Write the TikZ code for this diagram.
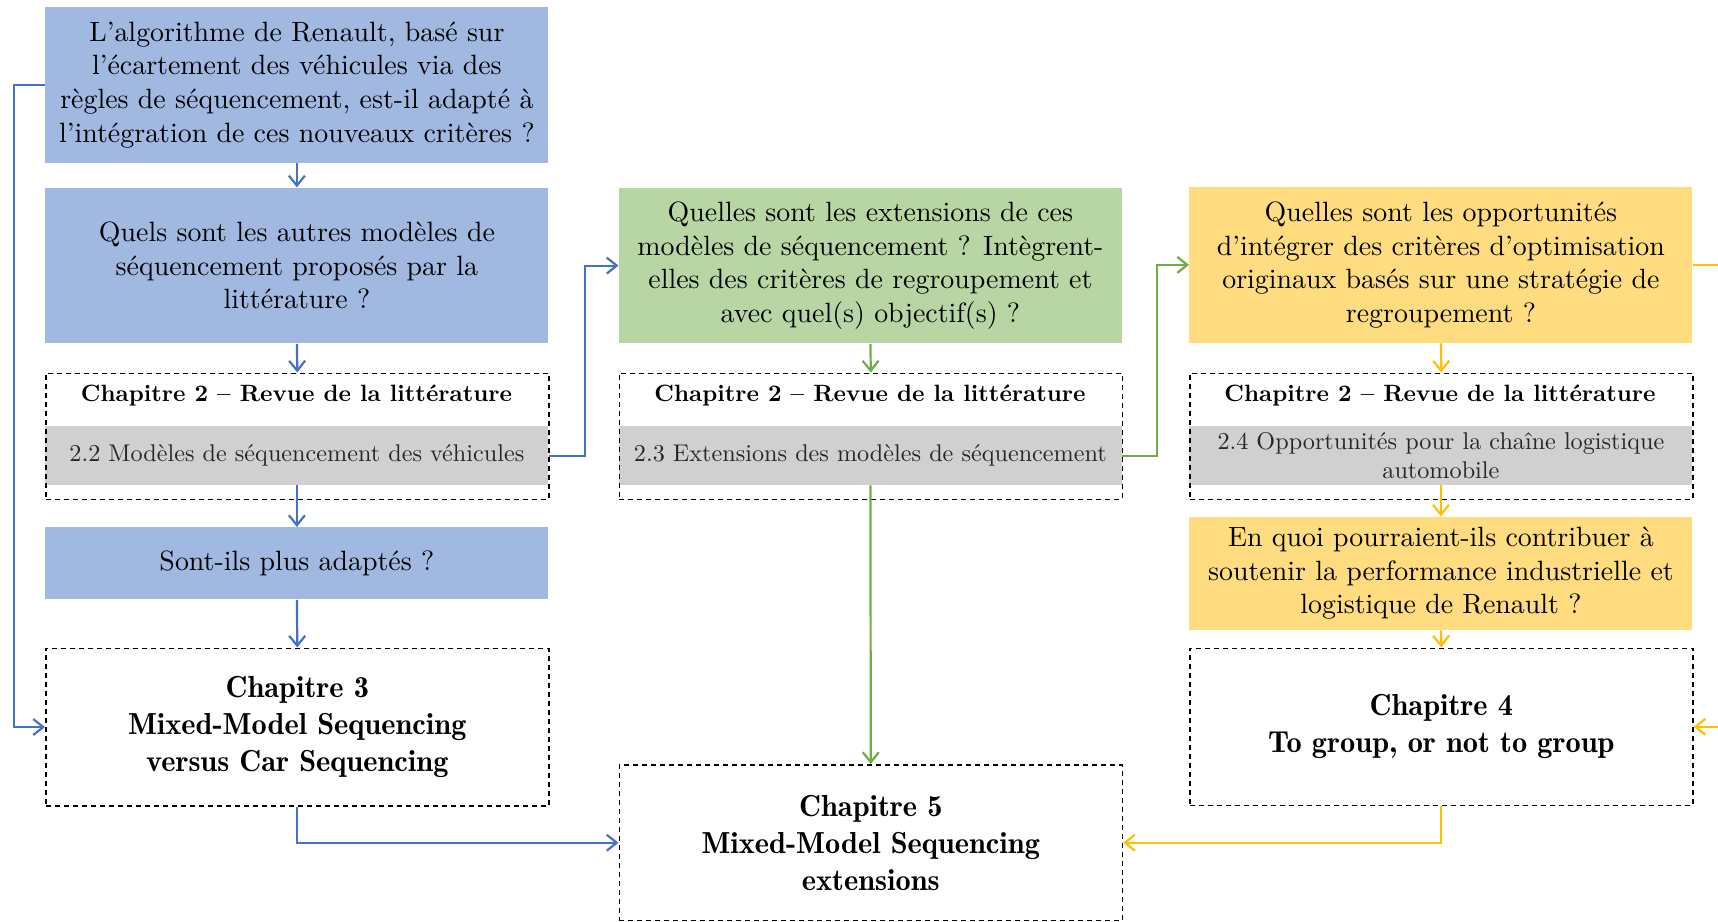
\documentclass[tikz,border=0pt]{standalone}
\usetikzlibrary{arrows.meta}
\DeclareFontFamily{TU}{lmten}{}
\DeclareFontShape{TU}{lmten}{m}{n}{<-> \UnicodeFontFile{lmroman10-regular}{\UnicodeFontTeXLigatures}}{}
\DeclareFontShape{TU}{lmten}{bx}{n}{<-> \UnicodeFontFile{lmroman10-bold}{\UnicodeFontTeXLigatures}}{}
\DeclareFontShape{TU}{lmten}{sb}{n}{<-> \UnicodeFontFile{lmromandemi10-regular}{\UnicodeFontTeXLigatures}}{}
\DeclareFontShape{TU}{lmten}{b}{n}{<->ssub * lmten/bx/n}{}
\renewcommand{\rmdefault}{lmten}
\definecolor{bfill}{HTML}{A1B8E1}
\definecolor{bline}{HTML}{4472C4}
\definecolor{gfill}{HTML}{B8D6A4}
\definecolor{gline}{HTML}{70AD47}
\definecolor{yfill}{HTML}{FFDC7F}
\definecolor{yline}{HTML}{FFC000}
\definecolor{band}{HTML}{D0D0D0}
\begin{document}
\begin{tikzpicture}[x=0.5pt,y=-0.5pt,
  box/.style={rectangle, inner sep=0pt, anchor=north west, minimum width=251.5pt, align=center},
  qbox/.style={box, font=\fontsize{13.95}{16.8}\selectfont},
  chbox/.style={box, draw=black, line width=0.8pt, dash pattern=on 2.5pt off 2pt, font=\fontsize{15.2}{18.5}\fontseries{sb}\selectfont},
  bandbox/.style={box, fill=band, minimum height=29.25pt, font=\fontsize{12.1}{14.2}\selectfont, text=black!85},
  head/.style={font=\fontsize{11.8}{14.4}\selectfont\bfseries, inner sep=0pt},
  conn/.style={line width=1.1pt, -{Straight Barb[length=5pt,width=8pt]}}
]
\clip (0,0) rectangle (1718,921);

% column 1
\node[qbox, fill=bfill, minimum height=77.8pt] (q1) at (45,6.6) {L'algorithme de Renault, basé sur\\l'écartement des véhicules via des\\règles de séquencement, est-il adapté à\\l'intégration de ces nouveaux critères~?};
\node[qbox, fill=bfill, minimum height=77.8pt] (q2) at (45,187.4) {Quels sont les autres modèles de\\séquencement proposés par la\\littérature~?};
\node[bandbox] (s22) at (45,426) {2.2 Modèles de séquencement des véhicules};
\node[chbox, minimum height=63pt] (c2a) at (45,372.5) {};
\node[head] (h2a) at (296.5,395) {Chapitre 2 -- Revue de la littérature};
\node[qbox, fill=bfill, minimum height=36pt] (q3) at (45,527) {Sont-ils plus adaptés~?};
\node[chbox, minimum height=78.75pt] (c3) at (45,647.5) {Chapitre 3\\Mixed-Model Sequencing\\versus Car Sequencing};

% column 2
\node[qbox, fill=gfill, minimum height=77.8pt] (q4) at (618.5,187.4) {Quelles sont les extensions de ces\\modèles de séquencement~? Intègrent-\\elles des critères de regroupement et\\avec quel(s) objectif(s)~?};
\node[bandbox] (s23) at (618.5,426) {2.3 Extensions des modèles de séquencement};
\node[chbox, minimum height=63pt] (c2b) at (618.5,372.5) {};
\node[head] (h2b) at (870,395) {Chapitre 2 -- Revue de la littérature};
\node[chbox, minimum height=77.9pt] (c5) at (618.5,764) {Chapitre 5\\Mixed-Model Sequencing\\extensions};

% column 3
\node[qbox, fill=yfill, minimum height=78pt] (q5) at (1189,186.5) {Quelles sont les opportunités\\d'intégrer des critères d'optimisation\\originaux basés sur une stratégie de\\regroupement~?};
\node[bandbox] (s24) at (1189,426) {2.4 Opportunités pour la chaîne logistique\\automobile};
\node[chbox, minimum height=63pt] (c2c) at (1189,372.5) {};
\node[head] (h2c) at (1440,395) {Chapitre 2 -- Revue de la littérature};
\node[qbox, fill=yfill, minimum height=56.5pt] (q6) at (1189,516.5) {En quoi pourraient-ils contribuer à\\soutenir la performance industrielle et\\logistique de Renault~?};
\node[chbox, minimum height=78.5pt] (c4) at (1189,647.5) {Chapitre 4\\To group, or not to group};

% connectors
\draw[conn, bline] (q1.south) -- (q2.north);
\draw[conn, bline] (q2.south) -- (c2a.north);
\draw[conn, bline] (s22.south) -- (q3.north);
\draw[conn, bline] (q3.south) -- (c3.north);
\draw[conn, bline] (q1.west) -- ++(-31,0) |- (c3.west);
\draw[conn, bline] (s22.east) -- ++(36,0) |- (q4.west);
\draw[conn, bline] (c3.south) |- (c5.west);

\draw[conn, gline] (q4.south) -- (c2b.north);
\draw[conn, gline] (s23.south) -- (c5.north);
\draw[conn, gline] (s23.east) -- ++(34.5,0) |- (q5.west);

\draw[conn, yline] (q5.south) -- (c2c.north);
\draw[conn, yline] (s24.south) -- (q6.north);
\draw[conn, yline] (q6.south) -- (c4.north);
\draw[conn, yline] (c4.south) |- (c5.east);
\draw[conn, yline] (q5.east) -- ++(60,0) |- (c4.east);
\end{tikzpicture}
\end{document}
